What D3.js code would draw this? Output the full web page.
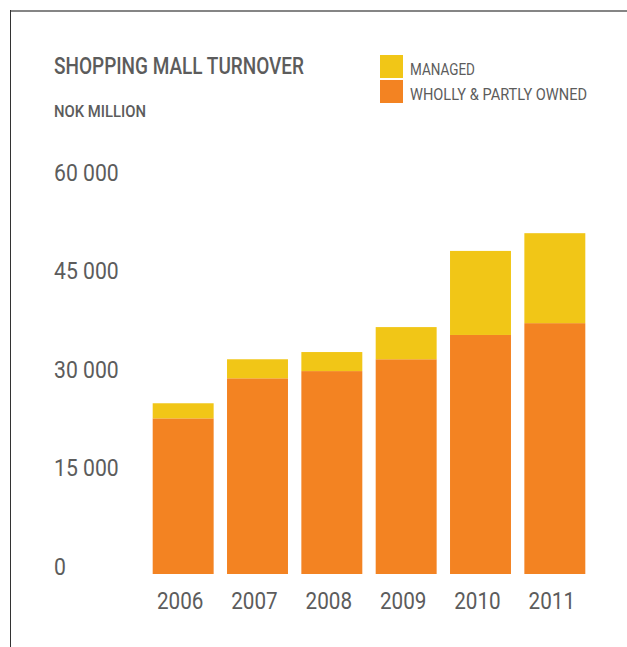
<!DOCTYPE html>
<html>
<head>
<meta charset="utf-8">
<script src="https://cdn.jsdelivr.net/npm/d3@7"></script>
<style>
  body { margin: 0; background: #fff; }
  text { font-family: Roboto, "DejaVu Sans", sans-serif; fill: #5c5c5c; }
</style>
</head>
<body>
<div id="chart"></div>
<script>
// values, NOK million
var years = ["2006", "2007", "2008", "2009", "2010", "2011"];
var owned = [23700, 29800, 30900, 32700, 36400, 38200];
var managed = [2300, 2900, 2900, 4900, 12800, 13700];
var yTicks = [0, 15000, 30000, 45000, 60000];
var legendLabels = ["MANAGED", "WHOLLY & PARTLY OWNED"];

var width = 627, height = 647;
var colors = { managed: "#f1c617", owned: "#f38322" };

// squeeze a normal font into the narrow face of the original
function condense(sel, factor) {
  sel.each(function() {
    var w = this.getComputedTextLength();
    d3.select(this)
      .attr("textLength", w * factor)
      .attr("lengthAdjust", "spacingAndGlyphs");
  });
}

var svg = d3.select("#chart")
  .append("svg")
  .attr("width", width)
  .attr("height", height);

// frame: top and left rules
svg.append("line")
  .attr("x1", 10).attr("x2", width)
  .attr("y1", 11).attr("y2", 11)
  .attr("stroke", "#858585").attr("stroke-width", 2);
svg.append("line")
  .attr("x1", 10.5).attr("x2", 10.5)
  .attr("y1", 10).attr("y2", height)
  .attr("stroke", "#333").attr("stroke-width", 1);

var rows = years.map(function(y, i) {
  return { year: y, owned: owned[i], managed: managed[i] };
});

var x = d3.scaleBand()
  .domain(years)
  .range([146, 592])
  .paddingInner(0.18)
  .paddingOuter(0.09);

var y = d3.scaleLinear()
  .domain([0, 60000])
  .range([574, 180]);

var stack = d3.stack().keys(["owned", "managed"]);
var series = stack(rows);

svg.append("g")
  .selectAll("g")
  .data(series)
  .join("g")
    .attr("fill", function(d) { return colors[d.key]; })
  .selectAll("rect")
  .data(function(d) { return d; })
  .join("rect")
    .attr("x", function(d) { return x(d.data.year); })
    .attr("y", function(d) { return y(d[1]); })
    .attr("width", x.bandwidth())
    .attr("height", function(d) { return y(d[0]) - y(d[1]); });

// y axis labels with a space as thousands separator
var fmt = d3.formatLocale({ decimal: ",", thousands: " ", grouping: [3], currency: ["", ""] }).format(",");

var yAxis = svg.append("g")
  .attr("transform", "translate(54,0)")
  .call(d3.axisLeft(y).tickValues(yTicks).tickFormat(fmt).tickSize(0));
yAxis.select(".domain").remove();
yAxis.attr("font-family", null).attr("font-size", null);
yAxis.selectAll("text")
  .attr("x", 0)
  .attr("dy", "0")
  .attr("text-anchor", "start")
  .attr("fill", null)
  .style("font-size", "23.5px")
  .call(condense, 0.9);

// x axis labels
var xAxis = svg.append("g")
  .attr("transform", "translate(-3,609)")
  .call(d3.axisBottom(x).tickSize(0).tickPadding(0));
xAxis.select(".domain").remove();
xAxis.attr("font-family", null).attr("font-size", null);
xAxis.selectAll("text")
  .attr("y", 0)
  .attr("dy", "0")
  .attr("fill", null)
  .style("font-size", "23.5px")
  .call(condense, 0.88);

// titles
svg.append("text")
  .attr("x", 54).attr("y", 74)
  .style("font-size", "23px")
  .style("font-weight", 500)
  .attr("textLength", 250)
  .attr("lengthAdjust", "spacingAndGlyphs")
  .text("SHOPPING MALL TURNOVER");

svg.append("text")
  .attr("x", 54).attr("y", 117)
  .style("font-size", "17px")
  .style("font-weight", 500)
  .attr("textLength", 92)
  .attr("lengthAdjust", "spacingAndGlyphs")
  .text("NOK MILLION");

// legend
var legend = svg.append("g")
  .selectAll("g")
  .data([
    { label: legendLabels[0], key: "managed", w: 65 },
    { label: legendLabels[1], key: "owned", w: 177 }
  ])
  .join("g")
    .attr("transform", function(d, i) { return "translate(380," + (55 + i * 25) + ")"; });

legend.append("rect")
  .attr("width", 23)
  .attr("height", 23)
  .attr("fill", function(d) { return colors[d.key]; });

legend.append("text")
  .attr("x", 30)
  .attr("y", 20)
  .style("font-size", "17px")
  .attr("textLength", function(d) { return d.w; })
  .attr("lengthAdjust", "spacingAndGlyphs")
  .text(function(d) { return d.label; });
</script>
</body>
</html>
